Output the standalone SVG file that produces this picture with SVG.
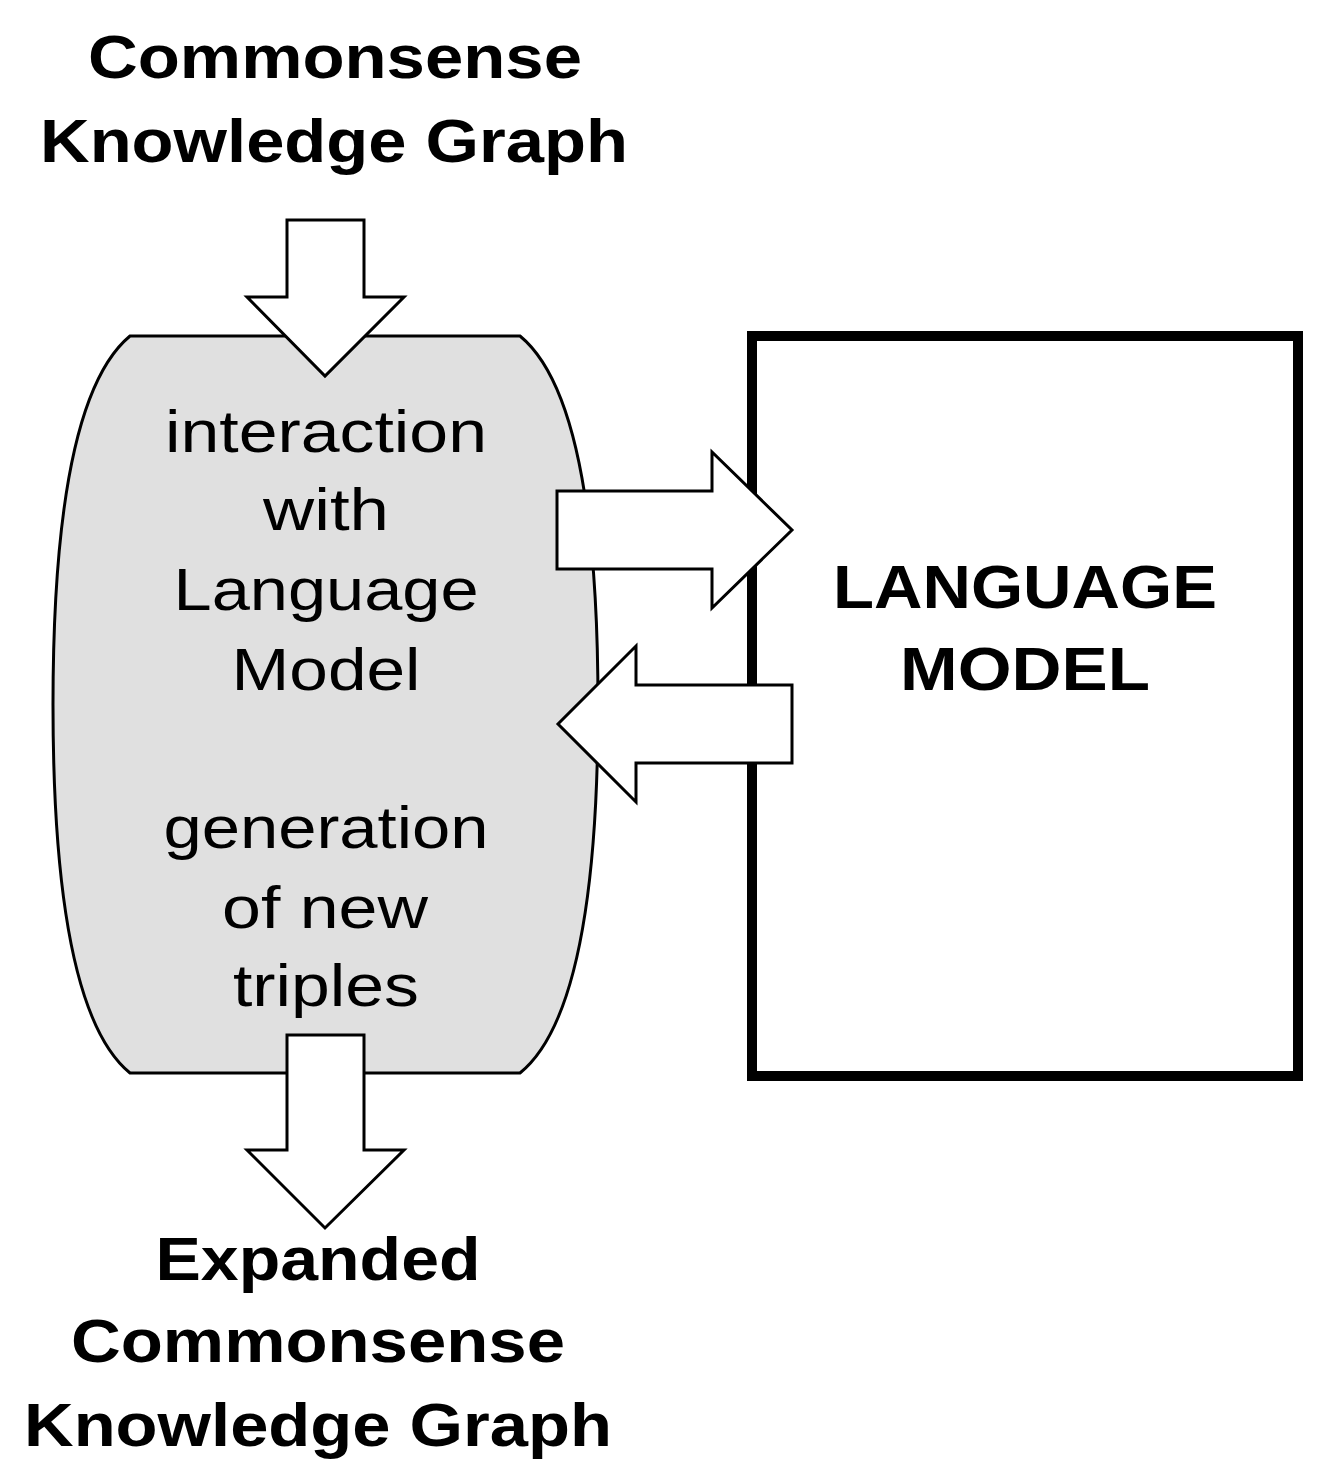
<svg xmlns="http://www.w3.org/2000/svg" width="1329" height="1476" viewBox="0 0 1329 1476">
<style>
.b{font-family:"Liberation Sans",Arial,sans-serif;font-weight:bold;font-size:62px;text-anchor:middle;fill:#000}
.r{font-family:"Liberation Sans",Arial,sans-serif;font-size:60px;text-anchor:middle;fill:#000}
.a{fill:#fff;stroke:#000;stroke-width:3;stroke-linejoin:miter}
</style>
<rect width="1329" height="1476" fill="#fff"/>
<g id="title-top"><text class="b" x="335" y="78" textLength="494" lengthAdjust="spacingAndGlyphs">Commonsense</text><text class="b" x="334" y="162" textLength="588" lengthAdjust="spacingAndGlyphs">Knowledge Graph</text></g>
<g id="process">
<path d="M130,336 L520,336 Q598,400 598,705 Q598,1010 520,1073 L130,1073 Q53,1010 53,705 Q53,400 130,336 Z" fill="#e0e0e0" stroke="#000" stroke-width="3"/>
<text class="r" x="326" y="452" textLength="322" lengthAdjust="spacingAndGlyphs">interaction</text><text class="r" x="326" y="530" textLength="126" lengthAdjust="spacingAndGlyphs">with</text><text class="r" x="326" y="610" textLength="305" lengthAdjust="spacingAndGlyphs">Language</text><text class="r" x="326" y="690" textLength="189" lengthAdjust="spacingAndGlyphs">Model</text>
<text class="r" x="326" y="848" textLength="325" lengthAdjust="spacingAndGlyphs">generation</text><text class="r" x="325" y="928" textLength="206" lengthAdjust="spacingAndGlyphs">of new</text><text class="r" x="326" y="1006" textLength="186" lengthAdjust="spacingAndGlyphs">triples</text>
</g>
<g id="lm"><rect x="752" y="336" width="546" height="740" fill="#fff" stroke="#000" stroke-width="10"/>
<text class="b" x="1025" y="608" textLength="384" lengthAdjust="spacingAndGlyphs">LANGUAGE</text><text class="b" x="1025" y="690" textLength="250" lengthAdjust="spacingAndGlyphs">MODEL</text></g>
<g id="connectors">
<path class="a" d="M287,220 L364,220 L364,297 L404,297 L325,376 L247,297 L287,297 Z"/>
<path class="a" d="M557,491 L712,491 L712,452 L792,530 L712,608 L712,569 L557,569 Z"/>
<path class="a" d="M792,685 L636,685 L636,646 L558,724 L636,802 L636,763 L792,763 Z"/>
<path class="a" d="M287,1035 L364,1035 L364,1150 L404,1150 L325,1228 L247,1150 L287,1150 Z"/>
</g>
<g id="title-bottom"><text class="b" x="318" y="1280" textLength="325" lengthAdjust="spacingAndGlyphs">Expanded</text><text class="b" x="318" y="1362" textLength="494" lengthAdjust="spacingAndGlyphs">Commonsense</text><text class="b" x="318" y="1446" textLength="588" lengthAdjust="spacingAndGlyphs">Knowledge Graph</text></g>
</svg>
